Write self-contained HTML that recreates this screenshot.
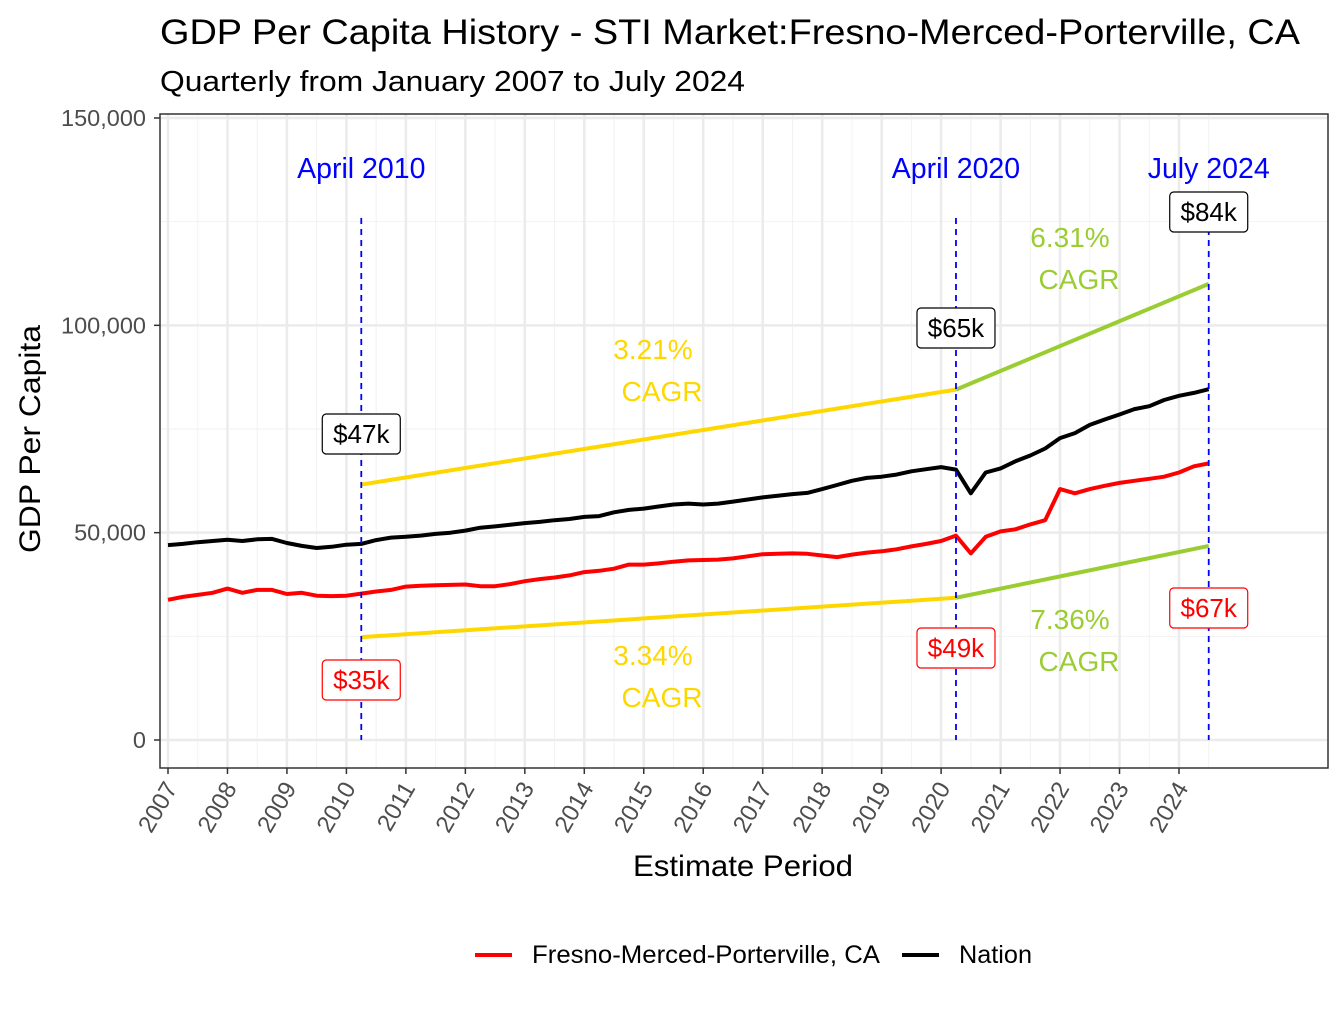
<!DOCTYPE html>
<html><head><meta charset="utf-8"><style>
body{margin:0;background:#fff;}
svg text{font-family:"Liberation Sans",Arial,sans-serif;}
</style></head><body>
<svg id="chart" width="1344" height="1008" xmlns="http://www.w3.org/2000/svg">
<rect width="1344" height="1008" fill="#fff"/>
<text x="160" y="44" font-size="35" textLength="1140" lengthAdjust="spacingAndGlyphs" fill="#000">GDP Per Capita History - STI Market:Fresno-Merced-Porterville, CA</text>
<text x="160" y="91" font-size="29" textLength="585" lengthAdjust="spacingAndGlyphs" fill="#000">Quarterly from January 2007 to July 2024</text>
<g id="grid"></g>
<g id="marks"></g>
<rect x="160" y="114" width="1168" height="654" fill="none" stroke="#333" stroke-width="1.5"/>
<g id="axes"></g>
<text x="633" y="876" font-size="30" textLength="220" lengthAdjust="spacingAndGlyphs">Estimate Period</text>
<text transform="translate(40,553) rotate(-90)" font-size="30" textLength="228" lengthAdjust="spacingAndGlyphs">GDP Per Capita</text>
<g>
<line x1="475" y1="955" x2="512" y2="955" stroke="#f00" stroke-width="4"/>
<text x="532" y="963" font-size="25" textLength="348" lengthAdjust="spacingAndGlyphs">Fresno-Merced-Porterville, CA</text>
<line x1="902" y1="955" x2="939" y2="955" stroke="#000" stroke-width="4"/>
<text x="959" y="963" font-size="25" textLength="73" lengthAdjust="spacingAndGlyphs">Nation</text>
</g>
</svg>
<script>
const years=[2007,2008,2009,2010,2011,2012,2013,2014,2015,2016,2017,2018,2019,2020,2021,2022,2023,2024];
const yTicks=[0,50000,100000,150000];
const yTickLabels=["0","50,000","100,000","150,000"];
const nation=[47000,47300,47700,48000,48300,48000,48400,48500,47500,46800,46300,46600,47100,47300,48200,48800,49000,49300,49700,50000,50500,51200,51500,51900,52300,52600,53000,53300,53800,54000,54900,55500,55800,56300,56800,57000,56800,57000,57500,58000,58500,58900,59300,59600,60500,61500,62500,63200,63500,64000,64800,65300,65800,65200,59500,64500,65500,67200,68600,70300,72800,74000,76000,77300,78500,79800,80500,82000,83000,83700,84600];
const fresno=[33800,34500,35000,35500,36500,35500,36200,36200,35200,35500,34800,34700,34800,35300,35800,36200,37000,37200,37300,37400,37500,37100,37100,37600,38300,38800,39200,39700,40500,40800,41300,42300,42300,42600,43000,43300,43400,43500,43800,44300,44800,44900,45000,44900,44500,44100,44700,45200,45500,46000,46700,47300,48000,49300,45000,49000,50300,50800,52000,53000,60500,59500,60500,61300,62000,62500,63000,63500,64500,66000,66700];
const markerDates=[2010.25,2020.25,2024.5];
const markerTitles=["April 2010","April 2020","July 2024"];
const nationLabels=["$47k","$65k","$84k"];
const fresnoLabels=["$35k","$49k","$67k"];
const upperTrend=[61600,84500,110000];
const lowerTrend=[24800,34300,46800];
const upperCagr=["3.21%","6.31%"];
const lowerCagr=["3.34%","7.36%"];

const X=t=>168+(t-2007)*59.47;
const Y=v=>740-v*(622/150000);
const NS="http://www.w3.org/2000/svg";
function mk(tag,attrs,parent,txt){const e=document.createElementNS(NS,tag);for(const k in attrs)e.setAttribute(k,attrs[k]);if(txt!==undefined)e.textContent=txt;document.getElementById(parent).appendChild(e);return e;}

for(let v=25000;v<=150000;v+=50000){const l=mk('line',{x1:160,x2:1328,y1:Y(v),y2:Y(v),stroke:'#f2f2f2','stroke-width':1},'grid');}
for(let i=0;i<years.length;i++){const l=mk('line',{x1:X(years[i]+0.5),x2:X(years[i]+0.5),y1:114,y2:768,stroke:'#f2f2f2','stroke-width':1},'grid');}
yTicks.forEach(v=>{const l=mk('line',{x1:160,x2:1328,y1:Y(v),y2:Y(v),stroke:'#ebebeb','stroke-width':2.5},'grid');});
years.forEach(y=>{const l=mk('line',{x1:X(y),x2:X(y),y1:114,y2:768,stroke:'#ebebeb','stroke-width':2.5},'grid');});

yTicks.forEach((v,i)=>{
 const t=mk('line',{x1:154,x2:160,y1:Y(v),y2:Y(v),stroke:'#333','stroke-width':1.5},'axes');
 const l=mk('text',{x:146,y:Y(v)+8,'font-size':23.5,fill:'#4d4d4d','text-anchor':'end'},'axes',yTickLabels[i]);
});
years.forEach(y=>{
 const t=mk('line',{x1:X(y),x2:X(y),y1:768,y2:774,stroke:'#333','stroke-width':1.5},'axes');
 const l=mk('text',{transform:`translate(${X(y)+10},${788}) rotate(-60)`,'font-size':24,fill:'#4d4d4d','text-anchor':'end'},'axes',String(y));
});

function seg(a,b,vals,color,name){const l=mk('line',{x1:X(markerDates[a]),y1:Y(vals[a]),x2:X(markerDates[b]),y2:Y(vals[b]),stroke:color,'stroke-width':4},'marks');}
seg(0,1,upperTrend,'#FFD700','upper-trend-2010-2020');
seg(1,2,upperTrend,'#9ACD32','upper-trend-2020-2024');
seg(0,1,lowerTrend,'#FFD700','lower-trend-2010-2020');
seg(1,2,lowerTrend,'#9ACD32','lower-trend-2020-2024');

function series(vals,color,name){const d=vals.map((v,i)=>(i?'L':'M')+X(2007+i/4).toFixed(1)+','+Y(v).toFixed(1)).join(' ');const p=mk('path',{d:d,fill:'none',stroke:color,'stroke-width':4,'stroke-linejoin':'round'},'marks');}
series(fresno,'#f00','fresno-line');
series(nation,'#000','nation-line');

markerDates.forEach((d,i)=>{
 const l=mk('line',{x1:X(d),x2:X(d),y1:218,y2:740,stroke:'#00f','stroke-width':1.8,'stroke-dasharray':'6,5'},'marks');
 const t=mk('text',{x:X(d),y:178,'font-size':28.5,fill:'#00f','text-anchor':'middle'},'marks',markerTitles[i]);
});
const nationLabelY=[434,328,212], fresnoLabelY=[680,648,608];
function label(x,y,txt,color,name){const g=mk('g',{},'marks');
 const r=document.createElementNS(NS,'rect');Object.entries({x:x-39,y:y-20,width:78,height:40,rx:4,fill:'#fff',stroke:color,'stroke-width':1.2}).forEach(([k,v])=>r.setAttribute(k,v));g.appendChild(r);
 const t=document.createElementNS(NS,'text');Object.entries({x:x,y:y+9,'font-size':26,fill:color,'text-anchor':'middle'}).forEach(([k,v])=>t.setAttribute(k,v));t.textContent=txt;g.appendChild(t);}
markerDates.forEach((d,i)=>{label(X(d),nationLabelY[i],nationLabels[i],'#000','nation-value-label');label(X(d),fresnoLabelY[i],fresnoLabels[i],'#f00','fresno-value-label');});

function cagr(x,y,pct,color,name){const t=mk('text',{x:x,y:y,'font-size':28,fill:color,'text-anchor':'middle'},'marks',pct);
 const c=mk('text',{x:x+9,y:y+42,'font-size':28,fill:color,'text-anchor':'middle'},'marks','CAGR');}
cagr(653,359,upperCagr[0],'#FFD700','upper-cagr-2010-2020');
cagr(1070,247,upperCagr[1],'#9ACD32','upper-cagr-2020-2024');
cagr(653,665,lowerCagr[0],'#FFD700','lower-cagr-2010-2020');
cagr(1070,629,lowerCagr[1],'#9ACD32','lower-cagr-2020-2024');
</script>
</body></html>
